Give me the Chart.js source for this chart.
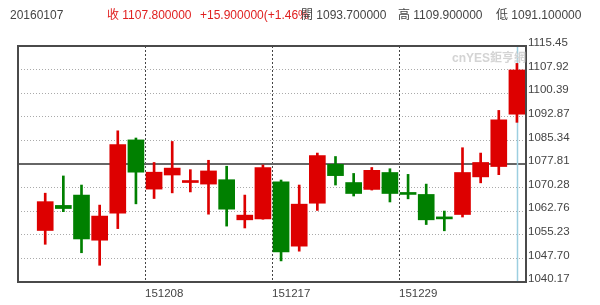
<!DOCTYPE html>
<html>
<head>
<meta charset="utf-8">
<script src="https://cdn.jsdelivr.net/npm/chart.js@4"></script>
<style>
  body { margin: 0; background: #fff; }
  #wrap { position: relative; width: 600px; height: 305px; font-family: "Liberation Sans", "Noto Sans CJK TC", sans-serif; }
  .hd { position: absolute; top: 8px; font-size: 12px; line-height: 14px; white-space: nowrap; color: #444; }
  .up { color: #e02020; }
  #mark { position: absolute; left: 452px; top: 48px; font-size: 12px; font-weight: bold; color: #d4d4d4; white-space: nowrap; }
</style>
</head>
<body>
<div id="wrap">
  <canvas id="kChart" width="600" height="305"></canvas>
  <span class="hd" style="left:10px">20160107</span>
  <span class="hd up" style="left:107px">收 1107.800000</span>
  <span class="hd up" style="left:200px">+15.900000(+1.46%</span>
  <span class="hd" style="left:301px">開 1093.700000</span>
  <span class="hd" style="left:398px">高 1109.900000</span>
  <span class="hd" style="left:496px">低 1091.100000</span>
  <div id="mark">cnYES鉅亨網</div>
</div>
<script>
const dates = ['151130', '151201', '151202', '151203', '151204', '151207', '151208', '151209', '151210',
    '151211', '151214', '151215', '151216', '151217', '151218', '151221', '151222', '151223', '151224',
    '151228', '151229', '151230', '151231', '160104', '160105', '160106', '160107'];
const opens = [1056.6, 1064.6, 1067.9, 1053.5, 1062.1, 1085.5, 1069.8, 1074.3, 1071.9, 1071.4, 1072.8, 1060.0, 1060.3, 1072.1,
    1051.6, 1065.3, 1077.7, 1071.9, 1069.7, 1075.1, 1068.3, 1068.1, 1060.4, 1061.7, 1073.7, 1077.0, 1093.7];
const highs = [1068.5, 1074.0, 1071.1, 1064.7, 1088.4, 1086.1, 1078.3, 1085.0, 1076.0, 1079.0, 1077.1, 1067.9, 1077.5, 1072.7,
    1071.1, 1081.3, 1080.2, 1074.8, 1076.7, 1076.3, 1074.5, 1071.4, 1062.8, 1083.0, 1081.3, 1094.9, 1109.9];
const lows = [1052.2, 1062.6, 1049.5, 1045.5, 1057.2, 1065.1, 1066.8, 1068.6, 1068.9, 1061.8, 1058.0, 1057.4, 1060.2, 1046.9,
    1050.0, 1063.0, 1071.1, 1067.6, 1069.5, 1065.7, 1066.7, 1058.5, 1056.5, 1060.9, 1071.8, 1074.4, 1091.1];
const closes = [1065.8, 1063.6, 1053.9, 1061.2, 1084.0, 1075.2, 1075.2, 1076.5, 1072.0, 1075.6, 1063.4, 1061.5, 1076.7, 1049.8,
    1065.0, 1080.5, 1074.1, 1068.4, 1075.8, 1068.4, 1068.1, 1060.0, 1060.3, 1075.1, 1078.3, 1091.9, 1107.8];
const yTicks = [1040.17, 1047.70, 1055.23, 1062.76, 1070.28, 1077.81, 1085.34, 1092.87, 1100.39, 1107.92, 1115.45];
const xTickDates = ['151208', '151217', '151229'];

const RED = '#dd0000';
const GREEN = '#008000';
const colors = closes.map((c, i) => c >= opens[i] ? RED : GREEN);

const axisFont = { family: 'Liberation Sans', size: 11.5 };

const framePlugin = {
    id: 'frame',
    beforeDatasetsDraw(chart) {
        const { ctx, chartArea: a, scales } = chart;
        ctx.save();
        // solid middle line
        const yMid = scales.y.getPixelForValue(yTicks[5]);
        ctx.strokeStyle = '#666';
        ctx.lineWidth = 2;
        ctx.beginPath();
        ctx.moveTo(a.left, yMid);
        ctx.lineTo(a.right, yMid);
        ctx.stroke();
        // cursor on the last day
        const xLast = Math.round(scales.x.getPixelForValue(dates.length - 1)) + 0.5;
        ctx.strokeStyle = '#9ccfe0';
        ctx.lineWidth = 1.5;
        ctx.beginPath();
        ctx.moveTo(xLast, a.top);
        ctx.lineTo(xLast, a.bottom);
        ctx.stroke();
        ctx.restore();
    },
    afterDraw(chart) {
        const { ctx, chartArea: a } = chart;
        ctx.save();
        ctx.strokeStyle = '#4a4a4a';
        ctx.lineWidth = 2;
        ctx.strokeRect(a.left, a.top, a.right - a.left, a.bottom - a.top);
        ctx.restore();
    }
};

new Chart(document.getElementById('kChart'), {
    type: 'bar',
    data: {
        datasets: [
            {
                label: 'body',
                data: dates.map((d, i) => ({ x: i, y: [opens[i], closes[i]] })),
                backgroundColor: colors,
                borderWidth: 0,
                barThickness: 16,
                minBarLength: 2,
                grouped: false
            },
            {
                label: 'wick',
                data: dates.map((d, i) => ({ x: i, y: [lows[i], highs[i]] })),
                backgroundColor: colors,
                borderWidth: 0,
                barThickness: 2,
                grouped: false
            }
        ]
    },
    options: {
        responsive: false,
        animation: false,
        layout: { padding: { left: 18, top: 46, right: 0, bottom: 0 } },
        plugins: { legend: { display: false }, tooltip: { enabled: false } },
        scales: {
            x: {
                type: 'linear',
                offset: false,
                min: -1.5,
                max: dates.length - 0.5,
                afterBuildTicks: scale => {
                    scale.ticks = xTickDates.map(d => ({ value: dates.indexOf(d) - 0.5 }));
                },
                afterFit: scale => { scale.height = 23; },
                ticks: {
                    autoSkip: false,
                    maxRotation: 0,
                    align: 'start',
                    padding: 5,
                    color: '#444',
                    font: axisFont,
                    callback: v => dates[v + 0.5]
                },
                grid: { offset: false, drawTicks: false, color: '#444', lineWidth: 1 },
                border: { display: false, dash: [2, 2] }
            },
            y: {
                position: 'right',
                min: yTicks[0],
                max: yTicks[yTicks.length - 1],
                afterBuildTicks: scale => {
                    scale.ticks = yTicks.map(v => ({ value: v }));
                },
                afterFit: scale => { scale.width = 74; },
                ticks: {
                    padding: 2,
                    labelOffset: -3,
                    color: '#444',
                    font: axisFont,
                    callback: v => v.toFixed(2)
                },
                grid: { drawTicks: false, color: '#aaa', lineWidth: 1 },
                border: { display: false, dash: [1, 2] }
            }
        }
    },
    plugins: [framePlugin]
});
</script>
</body>
</html>
